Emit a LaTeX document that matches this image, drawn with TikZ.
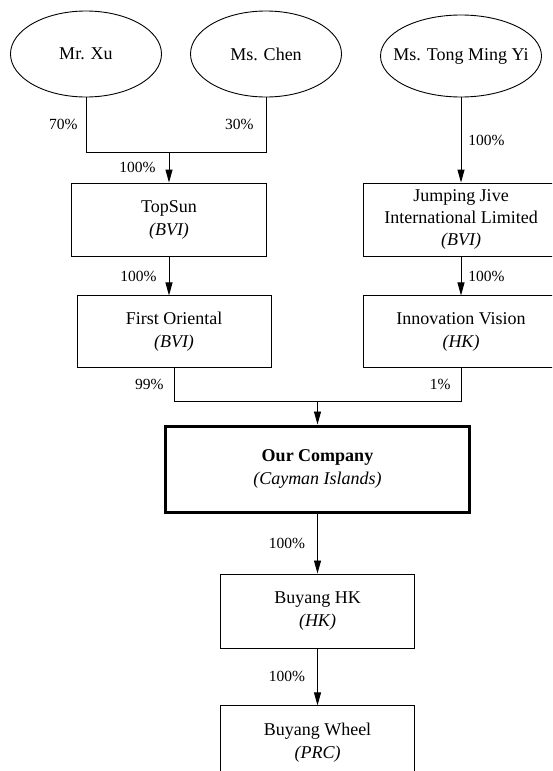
\documentclass[tikz,border=0pt]{standalone}
\usepackage{fontspec}
\setmainfont{Liberation Serif}
\usetikzlibrary{shapes.geometric,arrows.meta,positioning}

\begin{document}
\begin{tikzpicture}[
    x=1pt, y=1pt,
    owner/.style={ellipse, draw, line width=0.9pt, minimum width=151pt, minimum height=86pt, inner sep=0pt, font=\fontsize{18}{23}\selectfont},
    firm/.style={rectangle, draw, line width=0.9pt, minimum width=195pt, minimum height=73pt, inner sep=1pt, align=center, font=\fontsize{18}{23}\selectfont},
    share/.style={inner sep=0pt, font=\fontsize{15.5}{18}\selectfont},
    link/.style={line width=0.9pt},
    arrow/.style={-{Triangle[length=13pt,width=7pt]}, line width=0.9pt},
]
\useasboundingbox (0,0) rectangle (552,-771);
\clip (0,0) rectangle (552,-771);

% Shareholders
\node[owner] (xu) at (86,-54) {Mr. Xu};
\node[owner] (chen) at (266,-54) {Ms. Chen};
\node[owner, minimum width=161pt, minimum height=82pt] (tong) at (461,-56) {\makebox[0pt]{Ms. Tong Ming Yi}};

% BVI / HK holding companies
\node[firm] (topsun) at (169,-219.5) {TopSun\\\textit{(BVI)}};
\node[firm, minimum width=196pt, font=\fontsize{18}{22}\selectfont] (jjive) at (461,-219.5) {Jumping Jive\\International Limited\\\textit{(BVI)}};
\node[firm, minimum width=194pt, minimum height=72pt, below=39pt of topsun, xshift=5pt] (first) {First Oriental\\\textit{(BVI)}};
\node[firm, minimum width=196pt, minimum height=72pt, below=39pt of jjive] (innov) {Innovation Vision\\\textit{(HK)}};

% Listed company and subsidiaries
\node[firm, line width=3pt, minimum width=304pt, minimum height=86pt] (ours) at (317.5,-469) {\textbf{Our Company}\\\textit{(Cayman Islands)}};
\node[firm, minimum width=194pt, minimum height=74pt, below=60pt of ours] (bhk) {Buyang HK\\\textit{(HK)}};
\node[firm, minimum width=194pt, minimum height=74pt, below=57pt of bhk] (wheel) {Buyang Wheel\\\textit{(PRC)}};

\coordinate (join) at (topsun.north |- 0,-152);
\coordinate (merge) at (ours.north |- 0,-401);

% Connectors
\draw[link] (xu.south) |- node[share, pos=0.25, left=8pt] {70\%} (join);
\draw[link] (chen.south) |- node[share, pos=0.25, left=12pt] {30\%} (join);
\draw[arrow] (join) -- node[share, left=13pt] {100\%} (topsun.north);
\draw[arrow] (tong.south) -- node[share, right=7pt] {100\%} (jjive.north);
\draw[arrow] (topsun.south) -- node[share, left=12pt] {100\%} (topsun.south |- first.north);
\draw[arrow] (jjive.south) -- node[share, right=7pt] {100\%} (innov.north);
\draw[link] (first.south) |- node[share, pos=0.25, left=10pt] {99\%} (merge);
\draw[link] (innov.south) |- node[share, pos=0.25, left=10pt] {1\%} (merge);
\draw[arrow] (merge) -- (ours.north);
\draw[arrow] (ours.south) -- node[share, left=12pt] {100\%} (bhk.north);
\draw[arrow] (bhk.south) -- node[share, left=12pt] {100\%} (wheel.north);

\end{tikzpicture}
\end{document}
